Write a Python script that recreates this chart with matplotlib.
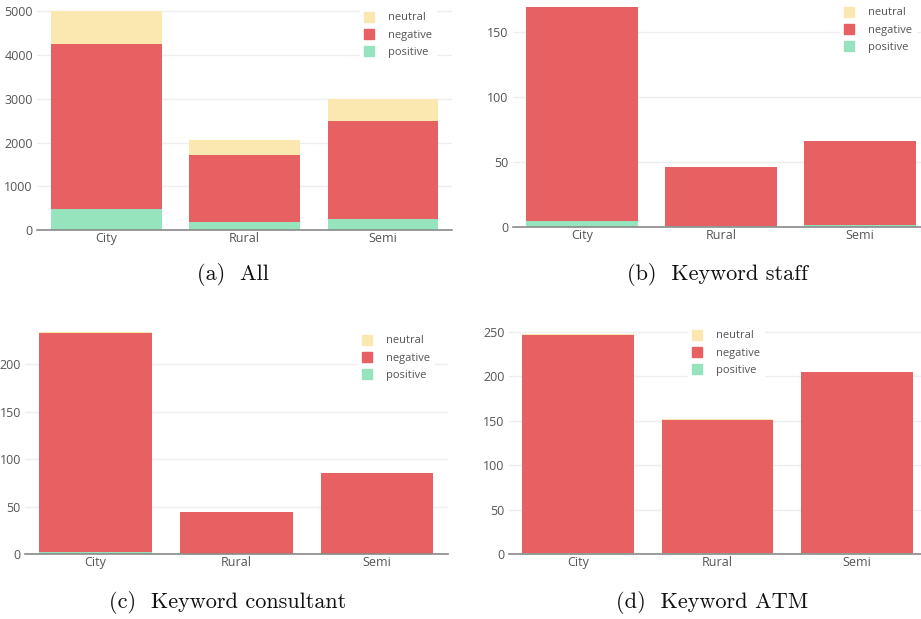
import matplotlib
matplotlib.use("Agg")
import matplotlib.pyplot as plt
from matplotlib.lines import Line2D
import numpy as np

# ---- data ----
categories = ["City", "Rural", "Semi"]

all_pos = [470, 175, 260]
all_neg = [3790, 1535, 2240]
all_neu = [740, 350, 490]

staff_pos = [5, 1, 2]
staff_neg = [164, 45, 64]
staff_neu = [0, 0, 0]

consultant_pos = [2, 0, 0]
consultant_neg = [231, 45, 86]
consultant_neu = [1, 0, 0]

atm_pos = [1, 1, 2]
atm_neg = [246, 150, 203]
atm_neu = [1, 1, 0]

captions = ["(a)  All", "(b)  Keyword staff", "(c)  Keyword consultant", "(d)  Keyword ATM"]

# ---- style ----
W, H = 921, 619
C_NEU = "#fbe7b0"
C_NEG = "#e76062"
C_POS = "#95e4bd"
TXT = "#555555"
TICK_FONT = "Open Sans"

fig = plt.figure(figsize=(W / 100, H / 100), dpi=100)


def px_axes(left, top, right, bottom):
    return fig.add_axes([left / W, 1 - bottom / H, (right - left) / W, (bottom - top) / H])


def draw_panel(ax, pos, neg, neu, ymax, yticks, legend_xy):
    x = np.arange(len(categories))
    pos = np.array(pos)
    neg = np.array(neg)
    neu = np.array(neu)
    ax.bar(x, pos, width=0.8, color=C_POS, linewidth=0, zorder=2)
    ax.bar(x, neg, width=0.8, bottom=pos, color=C_NEG, linewidth=0, zorder=2)
    ax.bar(x, neu, width=0.8, bottom=pos + neg, color=C_NEU, linewidth=0, zorder=2)

    ax.set_xlim(-0.5, 2.5)
    ax.set_ylim(0, ymax)
    ax.set_xticks(x)
    ax.set_xticklabels(categories)
    ax.set_yticks(yticks)
    ax.grid(axis="y", color="#eeeeee", linewidth=1, zorder=0)
    ax.set_axisbelow(True)
    for s in ["top", "right", "left"]:
        ax.spines[s].set_visible(False)
    ax.spines["bottom"].set_color("#8a8a8a")
    ax.spines["bottom"].set_linewidth(1.2)
    ax.spines["bottom"].set_zorder(3)
    ax.tick_params(axis="both", length=0, colors=TXT, labelsize=9)
    ax.tick_params(axis="y", pad=3)
    ax.tick_params(axis="x", pad=1.5)
    for lab in ax.get_xticklabels() + ax.get_yticklabels():
        lab.set_fontfamily(TICK_FONT)

    handles = [
        Line2D([], [], marker="s", linestyle="none", markersize=7.5, color=c)
        for c in (C_NEU, C_NEG, C_POS)
    ]
    leg = ax.legend(
        handles, ["neutral", "negative", "positive"],
        loc="upper left",
        bbox_to_anchor=(legend_xy[0] / W, 1 - legend_xy[1] / H),
        bbox_transform=fig.transFigure,
        frameon=True, fancybox=False, framealpha=1,
        edgecolor="white", facecolor="white",
        handlelength=0.8, handletextpad=1.3, labelspacing=0.55,
        borderpad=0.4, borderaxespad=0,
        prop={"family": TICK_FONT, "size": 8},
    )
    for t in leg.get_texts():
        t.set_color(TXT)
    leg.set_zorder(5)


ax_a = px_axes(37, 0, 452, 230)
draw_panel(ax_a, all_pos, all_neg, all_neu, 5263, range(0, 5001, 1000), (360, 8))

ax_b = px_axes(512.5, 0, 929.5, 227.3)
draw_panel(ax_b, staff_pos, staff_neg, staff_neu, 174.3, [0, 50, 100, 150], (840, 3))

ax_c = px_axes(25, 321, 447.5, 554.3)
draw_panel(ax_c, consultant_pos, consultant_neg, consultant_neu, 245.7, range(0, 201, 50), (358, 331))

ax_d = px_axes(508.5, 323, 926.5, 554.3)
draw_panel(ax_d, atm_pos, atm_neg, atm_neu, 260, range(0, 251, 50), (688, 326))

# ---- captions ----
cap_pos = [(233, 275), (717, 275), (228, 602), (712, 602)]
for text, (cx, cy) in zip(captions, cap_pos):
    fig.text(cx / W, 1 - cy / H, text, ha="center", va="center",
             fontsize=16, family="cmr10", color="#111111")

fig.savefig("out.png", dpi=100)
